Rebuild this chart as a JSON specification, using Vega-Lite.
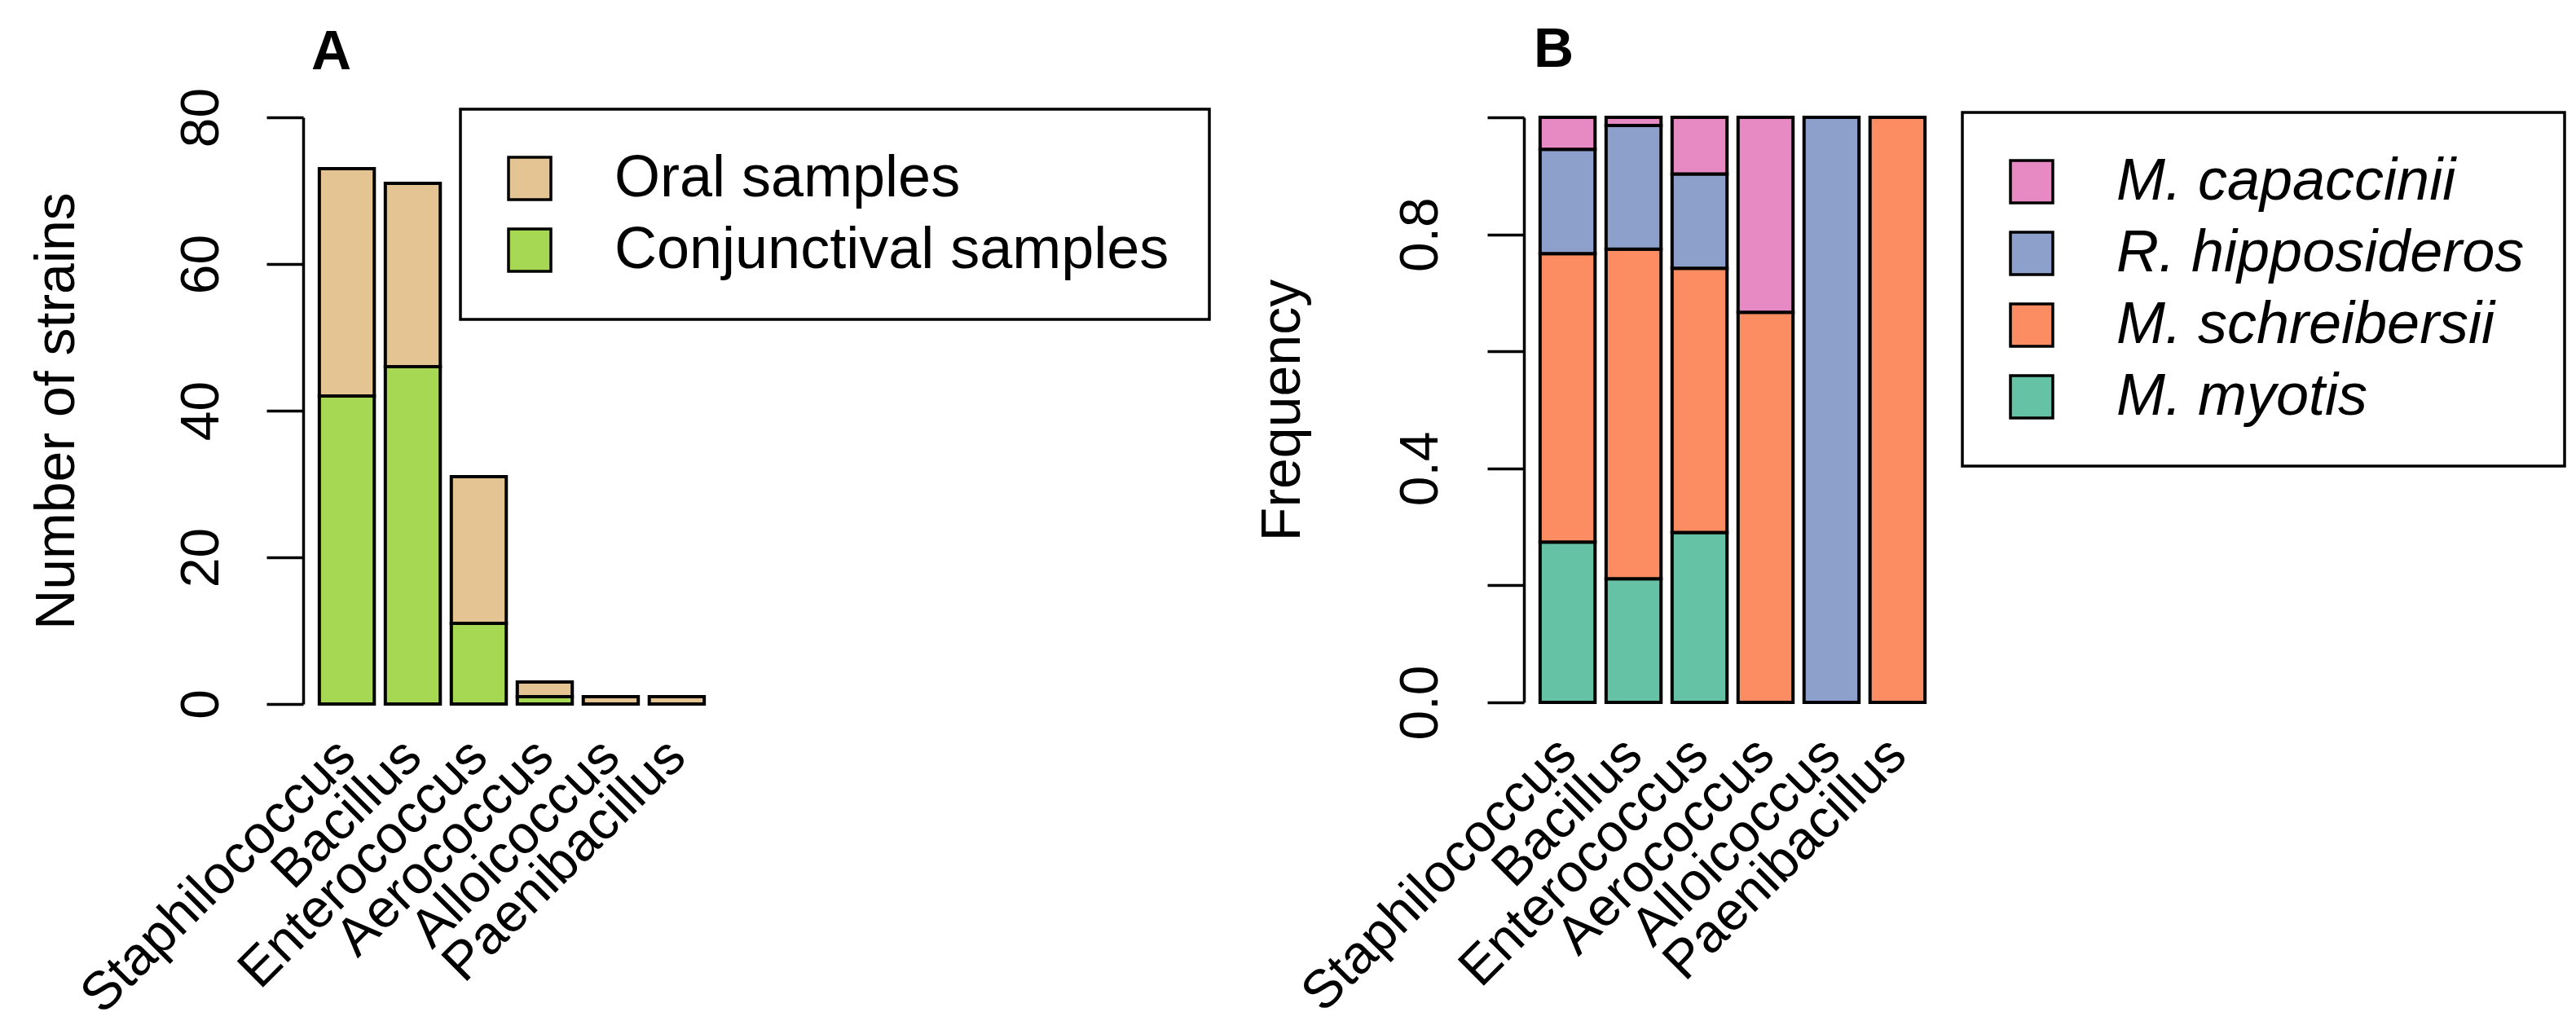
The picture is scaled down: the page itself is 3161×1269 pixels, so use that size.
{
  "$schema": "https://vega.github.io/schema/vega-lite/v6.json",
  "background": "white",
  "padding": {"left": 36, "top": 28, "right": 5, "bottom": 5},
  "bounds": "flush",
  "spacing": 986,
  "resolve": {"scale": {"color": "independent", "x": "independent", "y": "independent"}, "legend": {"color": "independent"}},
  "config": {
    "font": "Liberation Sans",
    "view": {"stroke": null},
    "axis": {
      "labelFont": "Liberation Sans", "titleFont": "Liberation Sans",
      "labelColor": "black", "titleColor": "black",
      "domainColor": "black", "tickColor": "black",
      "domainWidth": 3.5, "tickWidth": 3.5, "grid": false,
      "labelFontSize": 66, "titleFontSize": 68, "titleFontWeight": "normal",
      "labelLimit": 2000, "labelOverlap": false
    },
    "legend": {
      "labelFont": "Liberation Sans", "labelFontSize": 72, "labelColor": "black",
      "symbolType": "square", "symbolSize": 2704, "symbolStrokeColor": "black",
      "symbolStrokeWidth": 3.5, "symbolOpacity": 1,
      "strokeColor": "black", "strokeWidth": 3.5,
      "padding": 49, "rowPadding": 16, "labelOffset": 68, "labelLimit": 1200
    },
    "title": {"fontSize": 68, "fontWeight": "bold", "anchor": "start", "frame": "group", "color": "black", "font": "Liberation Sans"}
  },
  "hconcat": [
    {
      "title": {"text": "A", "dx": 10, "offset": 8},
      "width": 512, "height": 720,
      "data": {"values": [
        {"genus": "Staphilococcus", "sample": "Conjunctival samples", "count": 42},
        {"genus": "Staphilococcus", "sample": "Oral samples", "count": 31},
        {"genus": "Bacillus", "sample": "Conjunctival samples", "count": 46},
        {"genus": "Bacillus", "sample": "Oral samples", "count": 25},
        {"genus": "Enterococcus", "sample": "Conjunctival samples", "count": 11},
        {"genus": "Enterococcus", "sample": "Oral samples", "count": 20},
        {"genus": "Aerococcus", "sample": "Conjunctival samples", "count": 1},
        {"genus": "Aerococcus", "sample": "Oral samples", "count": 2},
        {"genus": "Alloicoccus", "sample": "Oral samples", "count": 1},
        {"genus": "Paenibacillus", "sample": "Oral samples", "count": 1}
      ]},
      "mark": {"type": "bar", "stroke": "black", "strokeWidth": 4},
      "encoding": {
        "x": {"field": "genus", "type": "nominal",
          "sort": ["Staphilococcus", "Bacillus", "Enterococcus", "Aerococcus", "Alloicoccus", "Paenibacillus"],
          "scale": {"paddingInner": 0.167, "paddingOuter": 0.245},
          "axis": {"title": null, "labelAngle": -45, "labelAlign": "right", "labelBaseline": "middle", "labelFontSize": 66, "ticks": false, "tickSize": 0, "domain": false, "labelPadding": 54}},
        "y": {"field": "count", "type": "quantitative", "stack": "zero",
          "scale": {"domain": [0, 80], "nice": false},
          "axis": {"title": "Number of strains", "values": [0, 20, 40, 60, 80], "labelAngle": -90, "labelAlign": "center", "labelBaseline": "middle", "tickSize": 45, "labelPadding": 80, "titlePadding": 110}},
        "color": {"field": "sample", "type": "nominal",
          "scale": {"domain": ["Oral samples", "Conjunctival samples"], "range": ["#E5C494", "#A6D854"]},
          "legend": {"title": null, "orient": "none", "legendX": 193, "legendY": -10}},
        "order": {"field": "sample", "sort": "ascending"}
      }
    },
    {
      "title": {"text": "B", "dx": 12, "offset": 40},
      "width": 512, "height": 718,
      "data": {"values": [
        {"genus": "Staphilococcus", "species": "M. myotis", "level": 1, "count": 20},
        {"genus": "Staphilococcus", "species": "M. schreibersii", "level": 2, "count": 36},
        {"genus": "Staphilococcus", "species": "R. hipposideros", "level": 3, "count": 13},
        {"genus": "Staphilococcus", "species": "M. capaccinii", "level": 4, "count": 4},
        {"genus": "Bacillus", "species": "M. myotis", "level": 1, "count": 15},
        {"genus": "Bacillus", "species": "M. schreibersii", "level": 2, "count": 40},
        {"genus": "Bacillus", "species": "R. hipposideros", "level": 3, "count": 15},
        {"genus": "Bacillus", "species": "M. capaccinii", "level": 4, "count": 1},
        {"genus": "Enterococcus", "species": "M. myotis", "level": 1, "count": 9},
        {"genus": "Enterococcus", "species": "M. schreibersii", "level": 2, "count": 14},
        {"genus": "Enterococcus", "species": "R. hipposideros", "level": 3, "count": 5},
        {"genus": "Enterococcus", "species": "M. capaccinii", "level": 4, "count": 3},
        {"genus": "Aerococcus", "species": "M. schreibersii", "level": 2, "count": 2},
        {"genus": "Aerococcus", "species": "M. capaccinii", "level": 4, "count": 1},
        {"genus": "Alloicoccus", "species": "R. hipposideros", "level": 3, "count": 1},
        {"genus": "Paenibacillus", "species": "M. schreibersii", "level": 2, "count": 1}
      ]},
      "mark": {"type": "bar", "stroke": "black", "strokeWidth": 4},
      "encoding": {
        "x": {"field": "genus", "type": "nominal",
          "sort": ["Staphilococcus", "Bacillus", "Enterococcus", "Aerococcus", "Alloicoccus", "Paenibacillus"],
          "scale": {"paddingInner": 0.167, "paddingOuter": 0.245},
          "axis": {"title": null, "labelAngle": -45, "labelAlign": "right", "labelBaseline": "middle", "labelFontSize": 66, "ticks": false, "tickSize": 0, "domain": false, "labelPadding": 54}},
        "y": {"field": "count", "type": "quantitative", "stack": "normalize",
          "scale": {"domain": [0, 1], "nice": false},
          "axis": {"title": "Frequency", "values": [0, 0.2, 0.4, 0.6, 0.8, 1.0],
            "labelExpr": "(datum.value < 0.01 || abs(datum.value - 0.4) < 0.01 || abs(datum.value - 0.8) < 0.01) ? format(datum.value, '.1f') : ''",
            "labelAngle": -90, "labelAlign": "center", "labelBaseline": "middle", "tickSize": 45, "labelPadding": 82, "titlePadding": 102}},
        "color": {"field": "species", "type": "nominal",
          "scale": {"domain": ["M. capaccinii", "R. hipposideros", "M. schreibersii", "M. myotis"], "range": ["#E78AC3", "#8DA0CB", "#FC8D62", "#66C2A5"]},
          "legend": {"title": null, "orient": "none", "legendX": 538, "legendY": -6, "labelFontStyle": "italic"}},
        "order": {"field": "level", "sort": "ascending"}
      }
    }
  ]
}
